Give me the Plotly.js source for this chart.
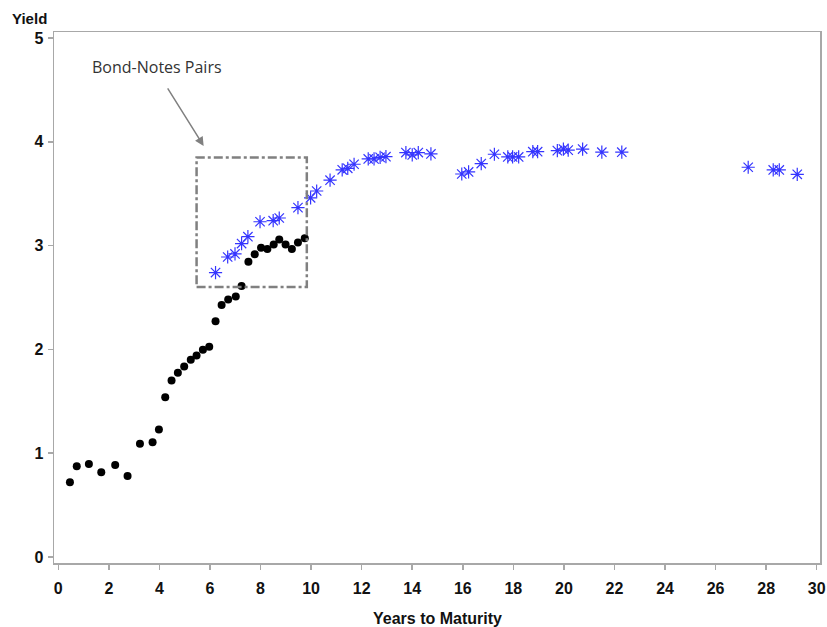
<!DOCTYPE html>
<html>
<head>
<meta charset="utf-8">
<script src="https://cdn.plot.ly/plotly-3.0.1.min.js"></script>
<style>html,body{margin:0;padding:0;background:#fff;}#chart{width:827px;height:627px;}</style>
</head>
<body>
<div id="chart"></div>
<script>
// Notes (black dots): years to maturity and yield
const notesYears = [0.46, 0.73, 1.21, 1.70, 2.25, 2.74, 3.23, 3.73, 3.98, 4.23, 4.48, 4.73, 4.98, 5.24, 5.47, 5.72, 5.97, 6.22, 6.46, 6.72, 7.02, 7.25, 7.52, 7.77, 8.02, 8.27, 8.52, 8.74, 8.99, 9.24, 9.48, 9.75];
const notesYield = [0.72, 0.875, 0.897, 0.817, 0.887, 0.78, 1.09, 1.106, 1.228, 1.54, 1.70, 1.775, 1.836, 1.90, 1.94, 1.996, 2.025, 2.27, 2.427, 2.48, 2.51, 2.61, 2.845, 2.916, 2.98, 2.967, 3.01, 3.06, 3.01, 2.967, 3.03, 3.07];

// Bonds (blue asterisks)
const bondsYears = [6.22, 6.70, 6.99, 7.25, 7.50, 7.98, 8.50, 8.74, 9.48, 9.98, 10.22, 10.75, 11.23, 11.45, 11.70, 12.26, 12.49, 12.73, 12.96, 13.75, 14.0, 14.24, 14.74, 15.96, 16.23, 16.73, 17.25, 17.78, 17.97, 18.21, 18.77, 18.96, 19.74, 19.98, 20.17, 20.74, 21.50, 22.29, 27.29, 28.28, 28.52, 29.23];
const bondsYield = [2.74, 2.89, 2.92, 3.02, 3.086, 3.23, 3.24, 3.266, 3.366, 3.46, 3.526, 3.63, 3.73, 3.745, 3.784, 3.835, 3.835, 3.85, 3.857, 3.896, 3.874, 3.896, 3.883, 3.69, 3.71, 3.79, 3.88, 3.854, 3.854, 3.854, 3.905, 3.905, 3.915, 3.93, 3.92, 3.93, 3.90, 3.90, 3.755, 3.729, 3.729, 3.687];

// Highlight box (Bond-Notes Pairs)
const boxX = [5.47, 9.83];
const boxY = [2.60, 3.85];

const xTicks = [0, 2, 4, 6, 8, 10, 12, 14, 16, 18, 20, 22, 24, 26, 28, 30];
const yTicks = [0, 1, 2, 3, 4, 5];

const tickFont = {family: 'Liberation Sans, Arial, sans-serif', size: 16, color: '#111', weight: 'bold'};

const traces = [
  {
    x: notesYears, y: notesYield, type: 'scatter', mode: 'markers', name: 'Notes',
    marker: {symbol: 'circle', size: 8, color: '#000'}
  },
  {
    x: bondsYears, y: bondsYield, type: 'scatter', mode: 'markers', name: 'Bonds',
    marker: {symbol: 'asterisk-open', size: 11, color: '#3535ff', line: {color: '#3535ff', width: 1.2}}
  }
];

const layout = {
  width: 827, height: 627,
  margin: {l: 54, r: 7, t: 32, b: 64},
  paper_bgcolor: '#fff', plot_bgcolor: '#fff',
  showlegend: false,
  xaxis: {
    range: [-0.17, 30.13], tickvals: xTicks, ticktext: xTicks.map(String),
    showgrid: false, zeroline: false, showline: true, linecolor: '#a8a8a8', linewidth: 1.5, mirror: true,
    ticks: 'outside', ticklen: 5, tickcolor: '#a8a8a8', tickwidth: 1.5,
    tickfont: tickFont, ticklabelstandoff: 5,
    title: {text: ''}
  },
  yaxis: {
    range: [-0.058, 5.058], tickvals: yTicks, ticktext: yTicks.map(String),
    showgrid: false, zeroline: false, showline: true, linecolor: '#a8a8a8', linewidth: 1.5, mirror: true,
    ticks: 'outside', ticklen: 5, tickcolor: '#a8a8a8', tickwidth: 1.5,
    tickfont: tickFont, ticklabelstandoff: 1,
    title: {text: ''}
  },
  shapes: [
    {type: 'rect', xref: 'x', yref: 'y', x0: boxX[0], x1: boxX[1], y0: boxY[0], y1: boxY[1],
     line: {color: '#808080', width: 2.5, dash: 'dashdot'}, fillcolor: 'rgba(0,0,0,0)'}
  ],
  annotations: [
    {text: 'Yield', xref: 'paper', yref: 'paper', x: -0.058, y: 1.0, xanchor: 'left', yanchor: 'bottom', yshift: 3,
     showarrow: false, font: {family: 'Liberation Sans, Arial, sans-serif', size: 15, color: '#111', weight: 'bold'}},
    {text: 'Years to Maturity', xref: 'paper', yref: 'paper', x: 0.5, y: 0, xanchor: 'center', yanchor: 'top', yshift: -45,
     showarrow: false, font: {family: 'Liberation Sans, Arial, sans-serif', size: 16, color: '#111', weight: 'bold'}},
    {text: 'Bond-Notes Pairs', xref: 'x', yref: 'y', x: 3.92, y: 4.72, xanchor: 'center', yanchor: 'middle',
     showarrow: false, font: {family: 'Open Sans, sans-serif', size: 16, color: '#333'}},
    {text: '', xref: 'x', yref: 'y', x: 5.75, y: 3.96, ax: 4.29, ay: 4.53, axref: 'x', ayref: 'y',
     showarrow: true, arrowhead: 2, arrowsize: 1.2, arrowwidth: 1.5, arrowcolor: '#808080'}
  ]
};

Plotly.newPlot('chart', traces, layout, {displayModeBar: false, staticPlot: true});
</script>
</body>
</html>
